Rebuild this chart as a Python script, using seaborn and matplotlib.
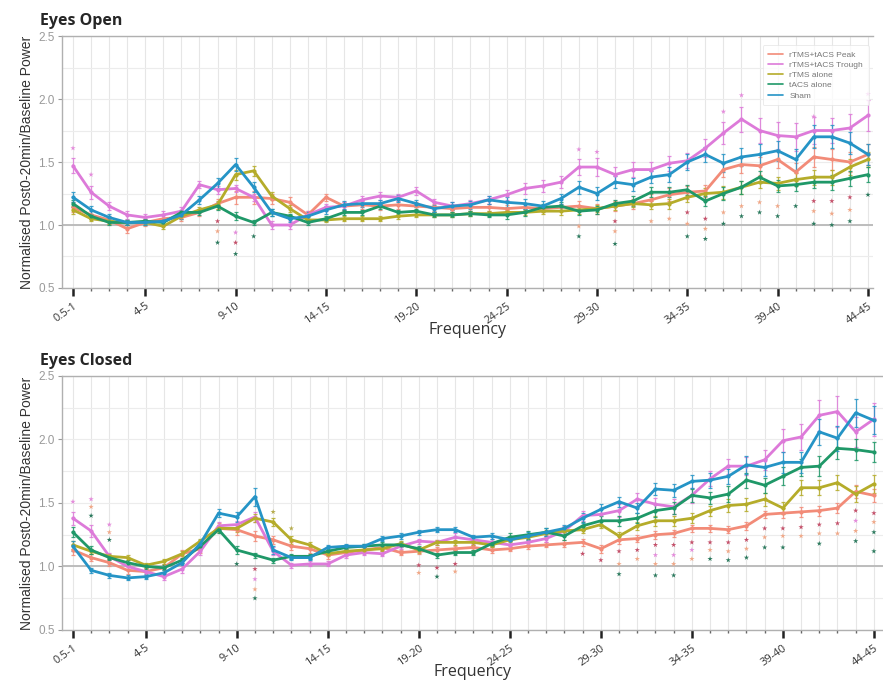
import numpy as np
import pandas as pd
import matplotlib
matplotlib.use("Agg")
import matplotlib.pyplot as plt
from matplotlib.ticker import FixedLocator, MultipleLocator
import seaborn as sns

# Frequency bins (Hz)
freq_bins = ["0.5-1"] + [f"{k}-{k+1}" for k in range(1, 45)]
major_bins = ["0.5-1", "4-5", "9-10", "14-15", "19-20", "24-25", "29-30", "34-35", "39-40", "44-45"]

groups = ["rTMS+tACS Peak", "rTMS+tACS Trough", "rTMS alone", "tACS alone", "Sham"]

# ---- Eyes open: normalised post 0-20 min / baseline power (mean) ----
eo_peak = [1.14, 1.08, 1.04, 0.97, 1.02, 1.05, 1.06, 1.10, 1.17, 1.22, 1.22, 1.21, 1.18, 1.08, 1.22,
           1.15, 1.16, 1.15, 1.16, 1.15, 1.14, 1.13, 1.14, 1.14, 1.13, 1.14, 1.13, 1.14, 1.15, 1.13,
           1.15, 1.17, 1.20, 1.24, 1.26, 1.27, 1.44, 1.48, 1.47, 1.52, 1.42, 1.54, 1.52, 1.50, 1.56]
eo_trough = [1.47, 1.26, 1.15, 1.08, 1.06, 1.08, 1.11, 1.32, 1.28, 1.29, 1.22, 1.00, 1.00, 1.08, 1.14,
             1.15, 1.20, 1.23, 1.22, 1.27, 1.18, 1.15, 1.17, 1.20, 1.24, 1.29, 1.31, 1.34, 1.46, 1.46,
             1.40, 1.44, 1.44, 1.49, 1.51, 1.61, 1.73, 1.84, 1.75, 1.71, 1.70, 1.75, 1.75, 1.77, 1.87]
eo_rtms = [1.12, 1.05, 1.03, 1.02, 1.02, 0.99, 1.07, 1.12, 1.16, 1.40, 1.43, 1.23, 1.13, 1.04, 1.04,
           1.05, 1.05, 1.05, 1.07, 1.08, 1.08, 1.08, 1.09, 1.09, 1.10, 1.10, 1.11, 1.11, 1.12, 1.13,
           1.15, 1.17, 1.16, 1.17, 1.22, 1.25, 1.26, 1.30, 1.34, 1.33, 1.36, 1.38, 1.38, 1.46, 1.52]
eo_tacs = [1.17, 1.07, 1.02, 1.02, 1.03, 1.02, 1.10, 1.10, 1.15, 1.07, 1.02, 1.10, 1.07, 1.02, 1.05,
           1.10, 1.10, 1.15, 1.10, 1.11, 1.08, 1.08, 1.09, 1.08, 1.08, 1.10, 1.14, 1.15, 1.11, 1.12,
           1.17, 1.19, 1.26, 1.26, 1.28, 1.19, 1.25, 1.30, 1.38, 1.31, 1.32, 1.34, 1.34, 1.37, 1.40]
eo_sham = [1.22, 1.12, 1.06, 1.02, 1.02, 1.03, 1.08, 1.20, 1.33, 1.48, 1.30, 1.10, 1.05, 1.07, 1.12,
           1.16, 1.17, 1.17, 1.21, 1.17, 1.13, 1.15, 1.16, 1.20, 1.18, 1.17, 1.15, 1.21, 1.30, 1.25,
           1.34, 1.32, 1.38, 1.40, 1.50, 1.56, 1.49, 1.54, 1.56, 1.59, 1.52, 1.70, 1.70, 1.65, 1.56]

# Eyes open: standard error of the mean
eo_peak_se = [0.04, 0.03, 0.03, 0.03, 0.03, 0.03, 0.03, 0.03, 0.04, 0.05, 0.05, 0.04, 0.04, 0.03, 0.03,
              0.03, 0.03, 0.03, 0.03, 0.03, 0.03, 0.03, 0.03, 0.03, 0.03, 0.03, 0.03, 0.03, 0.04, 0.04,
              0.04, 0.04, 0.05, 0.05, 0.05, 0.05, 0.06, 0.07, 0.07, 0.07, 0.07, 0.08, 0.08, 0.08, 0.08]
eo_trough_se = [0.06, 0.05, 0.03, 0.03, 0.03, 0.03, 0.03, 0.03, 0.03, 0.03, 0.03, 0.03, 0.03, 0.03, 0.03,
                0.03, 0.03, 0.03, 0.03, 0.03, 0.03, 0.03, 0.03, 0.03, 0.04, 0.04, 0.05, 0.05, 0.06, 0.07,
                0.06, 0.06, 0.06, 0.06, 0.06, 0.07, 0.09, 0.10, 0.10, 0.11, 0.11, 0.11, 0.10, 0.11, 0.12]
eo_rtms_se = [0.03, 0.02, 0.02, 0.02, 0.02, 0.02, 0.02, 0.02, 0.03, 0.04, 0.04, 0.03, 0.03, 0.02, 0.02,
              0.02, 0.02, 0.02, 0.02, 0.02, 0.02, 0.02, 0.02, 0.02, 0.02, 0.02, 0.02, 0.03, 0.03, 0.03,
              0.03, 0.03, 0.03, 0.04, 0.04, 0.04, 0.05, 0.05, 0.05, 0.05, 0.05, 0.06, 0.06, 0.06, 0.06]
eo_tacs_se = [0.03, 0.02, 0.02, 0.02, 0.02, 0.02, 0.02, 0.02, 0.03, 0.03, 0.02, 0.03, 0.02, 0.02, 0.02,
              0.02, 0.02, 0.02, 0.02, 0.02, 0.02, 0.02, 0.02, 0.02, 0.03, 0.03, 0.03, 0.03, 0.03, 0.03,
              0.03, 0.04, 0.04, 0.04, 0.04, 0.04, 0.05, 0.05, 0.05, 0.05, 0.05, 0.05, 0.06, 0.06, 0.06]
eo_sham_se = [0.04, 0.03, 0.03, 0.02, 0.02, 0.02, 0.03, 0.03, 0.04, 0.05, 0.04, 0.03, 0.03, 0.03, 0.03,
              0.03, 0.03, 0.03, 0.03, 0.03, 0.03, 0.03, 0.03, 0.03, 0.04, 0.04, 0.04, 0.04, 0.05, 0.05,
              0.05, 0.05, 0.05, 0.06, 0.06, 0.06, 0.07, 0.07, 0.08, 0.08, 0.08, 0.09, 0.09, 0.09, 0.08]

# ---- Eyes closed ----
ec_peak = [1.13, 1.07, 1.03, 0.97, 0.96, 0.99, 1.10, 1.14, 1.30, 1.29, 1.24, 1.21, 1.16, 1.14, 1.09,
           1.11, 1.13, 1.15, 1.11, 1.12, 1.13, 1.14, 1.15, 1.13, 1.14, 1.16, 1.17, 1.18, 1.19, 1.14,
           1.21, 1.22, 1.25, 1.26, 1.30, 1.30, 1.29, 1.32, 1.41, 1.42, 1.43, 1.44, 1.46, 1.59, 1.56]
ec_trough = [1.38, 1.28, 1.08, 1.00, 0.96, 0.92, 0.98, 1.12, 1.32, 1.33, 1.39, 1.12, 1.01, 1.02, 1.02,
             1.09, 1.11, 1.10, 1.16, 1.20, 1.19, 1.23, 1.21, 1.19, 1.17, 1.19, 1.22, 1.28, 1.40, 1.41,
             1.44, 1.53, 1.49, 1.47, 1.56, 1.69, 1.79, 1.79, 1.84, 1.99, 2.02, 2.19, 2.22, 2.06, 2.16]
ec_rtms = [1.17, 1.12, 1.08, 1.07, 1.01, 1.04, 1.10, 1.20, 1.30, 1.30, 1.38, 1.35, 1.21, 1.17, 1.10,
           1.12, 1.13, 1.14, 1.18, 1.13, 1.19, 1.19, 1.19, 1.17, 1.21, 1.23, 1.26, 1.28, 1.29, 1.33,
           1.24, 1.32, 1.36, 1.36, 1.38, 1.44, 1.48, 1.49, 1.53, 1.46, 1.62, 1.62, 1.66, 1.57, 1.65]
ec_tacs = [1.27, 1.13, 1.07, 1.03, 1.00, 0.99, 1.05, 1.16, 1.29, 1.13, 1.09, 1.05, 1.08, 1.08, 1.12,
           1.15, 1.16, 1.17, 1.17, 1.14, 1.09, 1.11, 1.11, 1.18, 1.23, 1.25, 1.27, 1.24, 1.32, 1.36,
           1.36, 1.38, 1.44, 1.46, 1.56, 1.54, 1.57, 1.68, 1.64, 1.71, 1.78, 1.79, 1.93, 1.92, 1.90]
ec_sham = [1.16, 0.97, 0.93, 0.91, 0.92, 0.95, 1.03, 1.18, 1.42, 1.39, 1.55, 1.13, 1.07, 1.07, 1.15,
           1.16, 1.16, 1.22, 1.24, 1.27, 1.29, 1.29, 1.23, 1.24, 1.21, 1.24, 1.27, 1.30, 1.38, 1.45,
           1.51, 1.46, 1.61, 1.60, 1.67, 1.68, 1.71, 1.80, 1.78, 1.82, 1.82, 2.06, 2.01, 2.21, 2.15]

ec_peak_se = [0.04, 0.03, 0.03, 0.03, 0.03, 0.03, 0.03, 0.03, 0.04, 0.04, 0.04, 0.03, 0.03, 0.03, 0.03,
              0.03, 0.02, 0.02, 0.02, 0.02, 0.02, 0.02, 0.02, 0.02, 0.02, 0.02, 0.02, 0.03, 0.03, 0.03,
              0.03, 0.03, 0.03, 0.03, 0.03, 0.03, 0.03, 0.03, 0.03, 0.04, 0.04, 0.04, 0.04, 0.05, 0.05]
ec_trough_se = [0.05, 0.05, 0.03, 0.03, 0.03, 0.03, 0.03, 0.03, 0.03, 0.03, 0.04, 0.03, 0.02, 0.02, 0.02,
                0.02, 0.02, 0.02, 0.02, 0.02, 0.02, 0.03, 0.03, 0.03, 0.03, 0.03, 0.03, 0.04, 0.04, 0.05,
                0.05, 0.05, 0.05, 0.06, 0.06, 0.06, 0.06, 0.07, 0.08, 0.09, 0.10, 0.12, 0.12, 0.12, 0.13]
ec_rtms_se = [0.03, 0.02, 0.02, 0.02, 0.02, 0.02, 0.02, 0.02, 0.03, 0.03, 0.03, 0.03, 0.03, 0.02, 0.02,
              0.02, 0.02, 0.02, 0.02, 0.02, 0.02, 0.02, 0.02, 0.02, 0.02, 0.02, 0.03, 0.03, 0.03, 0.03,
              0.03, 0.03, 0.04, 0.04, 0.04, 0.04, 0.05, 0.05, 0.05, 0.05, 0.06, 0.06, 0.06, 0.06, 0.07]
ec_tacs_se = [0.04, 0.03, 0.02, 0.02, 0.02, 0.02, 0.02, 0.02, 0.03, 0.03, 0.02, 0.02, 0.02, 0.02, 0.02,
              0.02, 0.02, 0.02, 0.02, 0.02, 0.02, 0.02, 0.02, 0.02, 0.03, 0.03, 0.03, 0.03, 0.03, 0.04,
              0.04, 0.04, 0.05, 0.05, 0.05, 0.05, 0.06, 0.06, 0.06, 0.07, 0.07, 0.08, 0.08, 0.08, 0.08]
ec_sham_se = [0.04, 0.02, 0.02, 0.02, 0.02, 0.02, 0.02, 0.03, 0.03, 0.04, 0.07, 0.03, 0.02, 0.02, 0.02,
              0.02, 0.02, 0.02, 0.02, 0.02, 0.02, 0.02, 0.02, 0.02, 0.03, 0.03, 0.03, 0.03, 0.04, 0.04,
              0.04, 0.04, 0.05, 0.05, 0.05, 0.06, 0.06, 0.07, 0.07, 0.08, 0.08, 0.10, 0.10, 0.11, 0.11]

# Significance asterisks: frequency bin, height, contrast
eo_sig_bin = ["0.5-1", "1-2", "8-9", "8-9", "8-9", "9-10", "9-10", "9-10", "10-11",
              "28-29", "28-29", "28-29", "29-30", "30-31", "30-31", "30-31", "32-33", "33-34",
              "34-35", "34-35", "34-35", "35-36", "35-36", "35-36", "36-37", "36-37", "36-37",
              "37-38", "37-38", "37-38", "38-39", "38-39", "39-40", "39-40", "40-41",
              "41-42", "41-42", "41-42", "41-42", "42-43", "42-43", "42-43", "43-44", "43-44", "43-44",
              "44-45", "44-45"]
eo_sig_y = [1.61, 1.40, 1.03, 0.95, 0.86, 0.94, 0.86, 0.77, 0.91,
            1.60, 0.99, 0.91, 1.58, 1.03, 0.95, 0.85, 1.03, 1.05,
            1.10, 1.01, 0.91, 1.05, 0.97, 0.89, 1.90, 1.10, 1.01,
            2.03, 1.15, 1.07, 1.18, 1.10, 1.15, 1.07, 1.15,
            1.86, 1.19, 1.11, 1.01, 1.19, 1.09, 1.00, 1.22, 1.12, 1.03,
            2.04, 1.24]
eo_sig_kind = ["c", "c", "a", "b", "d", "c", "a", "d", "d",
               "c", "b", "d", "c", "a", "b", "d", "b", "b",
               "a", "b", "d", "a", "b", "d", "c", "b", "d",
               "c", "b", "d", "b", "d", "b", "d", "d",
               "c", "a", "b", "d", "a", "b", "d", "a", "b", "d",
               "c", "d"]

ec_sig_bin = ["0.5-1", "1-2", "1-2", "1-2", "2-3", "2-3", "2-3", "9-10",
              "10-11", "10-11", "10-11", "10-11", "11-12", "12-13",
              "19-20", "19-20", "20-21", "20-21", "21-22", "21-22", "28-29", "29-30",
              "30-31", "30-31", "30-31", "31-32", "31-32",
              "32-33", "32-33", "32-33", "32-33", "33-34", "33-34", "33-34", "33-34",
              "34-35", "34-35", "34-35", "35-36", "35-36", "35-36", "36-37", "36-37", "36-37",
              "37-38", "37-38", "37-38", "38-39", "38-39", "38-39", "39-40", "39-40", "39-40",
              "40-41", "40-41", "41-42", "41-42", "41-42", "42-43", "42-43",
              "43-44", "43-44", "43-44", "43-44", "44-45", "44-45", "44-45", "44-45"]
ec_sig_y = [1.51, 1.53, 1.47, 1.40, 1.33, 1.27, 1.21, 1.02,
            0.98, 0.90, 0.82, 0.75, 1.43, 1.30,
            1.01, 0.95, 0.99, 0.92, 1.02, 0.96, 1.10, 1.05,
            1.12, 1.02, 0.94, 1.13, 1.06,
            1.17, 1.09, 1.02, 0.93, 1.17, 1.09, 1.02, 0.93,
            1.19, 1.13, 1.06, 1.19, 1.13, 1.06, 1.19, 1.12, 1.05,
            1.21, 1.14, 1.07, 1.30, 1.23, 1.15, 1.30, 1.24, 1.15,
            1.31, 1.24, 1.33, 1.26, 1.18, 1.34, 1.26,
            1.44, 1.36, 1.28, 1.20, 1.42, 1.35, 1.27, 1.12]
ec_sig_kind = ["c", "c", "b", "d", "c", "b", "d", "d",
               "a", "c", "b", "d", "e", "e",
               "a", "b", "a", "d", "a", "b", "a", "a",
               "a", "b", "d", "a", "b",
               "a", "c", "b", "d", "a", "c", "b", "d",
               "a", "c", "b", "a", "b", "d", "a", "b", "d",
               "a", "b", "d", "a", "b", "d", "a", "b", "d",
               "a", "b", "a", "b", "d", "a", "b",
               "a", "c", "b", "d", "a", "b", "d", "d"]

palette = {"rTMS+tACS Peak": "#F28B78", "rTMS+tACS Trough": "#DD7AD9",
           "rTMS alone": "#B5AC2A", "tACS alone": "#1F9868", "Sham": "#2594C6"}
sig_colors = {"a": "#C4506A", "b": "#F0A888", "c": "#E48CDB", "d": "#2C7A5E", "e": "#B6AC4E"}

sns.set_theme(style="white")
plt.rcParams["font.family"] = ["Liberation Sans", "DejaVu Sans"]

fig = plt.figure(figsize=(8.83, 6.81), dpi=100)
ax_top = fig.add_axes([0.0702, 0.5771, 0.9185, 0.3700])
ax_bot = fig.add_axes([0.0702, 0.0749, 0.9298, 0.3730])

pos = {b: i for i, b in enumerate(freq_bins)}


def long_frame(means, ses):
    rows = []
    for g, m, s in zip(groups, means, ses):
        for b, v, e in zip(freq_bins, m, s):
            rows.append({"bin": b, "x": pos[b], "group": g, "power": v, "se": e})
    return pd.DataFrame(rows)


def draw_panel(ax, df, sig_bin, sig_y, sig_kind, title, xlim, show_legend):
    ax.set_xlim(*xlim)
    ax.set_ylim(0.5, 2.5)

    # light grid: every bin vertically, every 0.25 horizontally
    for i in range(len(freq_bins)):
        ax.axvline(i, color="#e6e6e6", lw=0.8, zorder=0)
    for yv in np.arange(0.5, 2.51, 0.25):
        ax.axhline(yv, color="#ececec", lw=0.8, zorder=0)
    ax.axhline(1.0, color="#b8b8b8", lw=1.3, zorder=1)

    for g in groups:
        sub = df[df["group"] == g]
        ax.errorbar(sub["x"], sub["power"], yerr=sub["se"], fmt="none",
                    ecolor=palette[g], elinewidth=0.9, capsize=1.6, capthick=0.9,
                    alpha=0.85, zorder=2)

    sns.lineplot(data=df, x="x", y="power", hue="group", hue_order=groups,
                 palette=palette, marker="o", markersize=3, markeredgewidth=0,
                 linewidth=2.0, ax=ax, legend=show_legend, zorder=3, sort=False)

    sx = [pos[b] for b in sig_bin]
    ax.scatter(sx, sig_y, c=[sig_colors[k] for k in sig_kind], marker="*",
               s=16, linewidths=0, zorder=4)

    # axes styling
    for side in ["left", "top", "right", "bottom"]:
        ax.spines[side].set_color("#b0b0b0")
        ax.spines[side].set_linewidth(1.0)
    ax.spines["right"].set_visible(False)
    ax.set_yticks([0.5, 1.0, 1.5, 2.0, 2.5])
    ax.set_yticklabels(["0.5", "1.0", "1.5", "2.0", "2.5"])
    ax.tick_params(axis="y", colors="#9a9a9a", labelsize=8.5, length=3, width=0.8,
                   left=True, pad=2)

    ax.xaxis.set_major_locator(FixedLocator([pos[b] for b in major_bins]))
    ax.xaxis.set_minor_locator(MultipleLocator(1))
    ax.set_xticklabels(major_bins, rotation=35, ha="right", rotation_mode="anchor",
                       fontsize=8, color="#333333", family=["Open Sans", "DejaVu Sans"])
    ax.tick_params(axis="x", which="major", length=6, width=1.8, color="#222222",
                   bottom=True, pad=3)
    ax.tick_params(axis="x", which="minor", length=2, width=1.0, color="#666666",
                   bottom=True)

    ax.set_xlabel("Frequency", fontsize=11.5, color="#333333", labelpad=-3,
                  family=["Open Sans", "DejaVu Sans"])
    ax.set_ylabel("Normalised Post0-20min/Baseline Power", fontsize=10,
                  color="#333333", labelpad=3)
    ax.set_title(title, loc="left", fontsize=11.5, fontweight="bold",
                 family=["Open Sans", "DejaVu Sans"], x=-0.027, pad=8)

    if show_legend:
        leg = ax.legend(loc="upper right", bbox_to_anchor=(1.0, 0.98), fontsize=6,
                        frameon=True, handlelength=1.8, handletextpad=0.7,
                        labelspacing=0.28, borderpad=0.7)
        leg.get_frame().set_edgecolor("#e4e4e4")
        leg.get_frame().set_linewidth(0.6)
        for t in leg.get_texts():
            t.set_color("#777777")
        for h in leg.get_lines():
            h.set_linewidth(1.2)
            h.set_marker("")


df_eo = long_frame([eo_peak, eo_trough, eo_rtms, eo_tacs, eo_sham],
                   [eo_peak_se, eo_trough_se, eo_rtms_se, eo_tacs_se, eo_sham_se])
df_ec = long_frame([ec_peak, ec_trough, ec_rtms, ec_tacs, ec_sham],
                   [ec_peak_se, ec_trough_se, ec_rtms_se, ec_tacs_se, ec_sham_se])

draw_panel(ax_top, df_eo, eo_sig_bin, eo_sig_y, eo_sig_kind, "Eyes Open", (-0.61, 44.28), True)
draw_panel(ax_bot, df_ec, ec_sig_bin, ec_sig_y, ec_sig_kind, "Eyes Closed", (-0.6, 44.5), False)

fig.savefig("out.png", dpi=100)
